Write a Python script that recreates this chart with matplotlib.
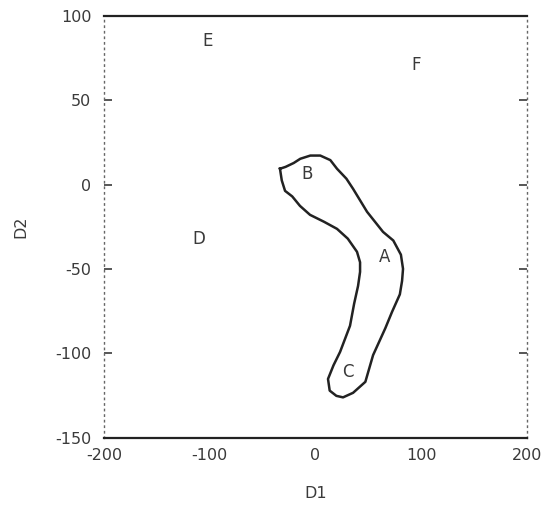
import matplotlib
matplotlib.use("Agg")
import matplotlib.pyplot as plt
import numpy as np

# outline of the region (D1, D2), traced clockwise from the tip near B
region_d1 = [-33.6, -31.9, -28.8, -22.0, -14.7, -5.2, 8.0, 20.3, 30.5, 39.2,
             42.1, 42.1, 40.2, 36.5, 32.6, 23.2, 17.0, 11.8, 13.4, 19.7,
             26.0, 35.5, 47.1, 54.4, 66.0, 72.3, 79.7, 81.8, 82.7, 80.7,
             73.5, 63.8, 48.7, 35.5, 29.2, 20.3, 14.0, 4.5, -4.9, -14.4,
             -20.6, -28.3, -33.6]
region_d2 = [9.4, 2.5, -3.7, -7.0, -12.6, -17.9, -22.0, -26.2, -32.0, -39.8,
             -46.0, -51.7, -60.0, -70.5, -83.6, -99.1, -107.0, -115.1, -122.0, -125.1,
             -126.0, -123.3, -116.8, -101.0, -85.0, -75.4, -65.0, -57.0, -49.9, -41.5,
             -33.1, -28.0, -16.1, -2.5, 3.5, 9.4, 14.5, 17.2, 17.2, 15.3,
             12.8, 10.5, 9.4]

# group labels and their positions
labels = ["E", "F", "D", "B", "A", "C"]
label_d1 = [-101.7, 95.0, -110.0, -8.0, 64.8, 30.7]
label_d2 = [85.2, 71.0, -32.0, 6.4, -42.8, -110.9]

x_ticks = [-200, -100, 0, 100, 200]
y_ticks = [100, 50, 0, -50, -100, -150]

ink = "#3a3a3a"
plt.rcParams["font.family"] = ["DejaVu Sans"]

fig = plt.figure(figsize=(5.44, 5.08), dpi=100)
ax = fig.add_axes([0.191, 0.138, 0.778, 0.831])

ax.plot(region_d1, region_d2, color="#222222", lw=1.8, solid_joinstyle="round")

for lab, x, y in zip(labels, label_d1, label_d2):
    ax.text(x, y, lab, ha="center", va="center", fontsize=12, color=ink)

ax.set_xlim(-200, 200)
ax.set_ylim(-150, 100)
ax.set_xticks(x_ticks)
ax.set_yticks(y_ticks)
ax.set_xticklabels([str(v) for v in x_ticks], fontsize=11.5, color=ink)
ax.set_yticklabels([str(v) for v in y_ticks], fontsize=11.5, color=ink)
ax.tick_params(axis="x", length=0, pad=7)
ax.tick_params(axis="y", direction="in", length=6, width=1.2, color=ink,
               pad=9, right=True)

# solid top/bottom frame, dotted sides
for side in ["top", "bottom"]:
    ax.spines[side].set_linewidth(1.6)
    ax.spines[side].set_color("#222222")
for side in ["left", "right"]:
    ax.spines[side].set_linestyle((0, (1, 3)))
    ax.spines[side].set_linewidth(1.0)
    ax.spines[side].set_color("#666666")

ax.set_xlabel("D1", fontsize=11.5, color=ink, labelpad=17)
ax.set_ylabel("D2", fontsize=11.5, color=ink, labelpad=19)

fig.savefig("out.png", dpi=100, facecolor="white")
